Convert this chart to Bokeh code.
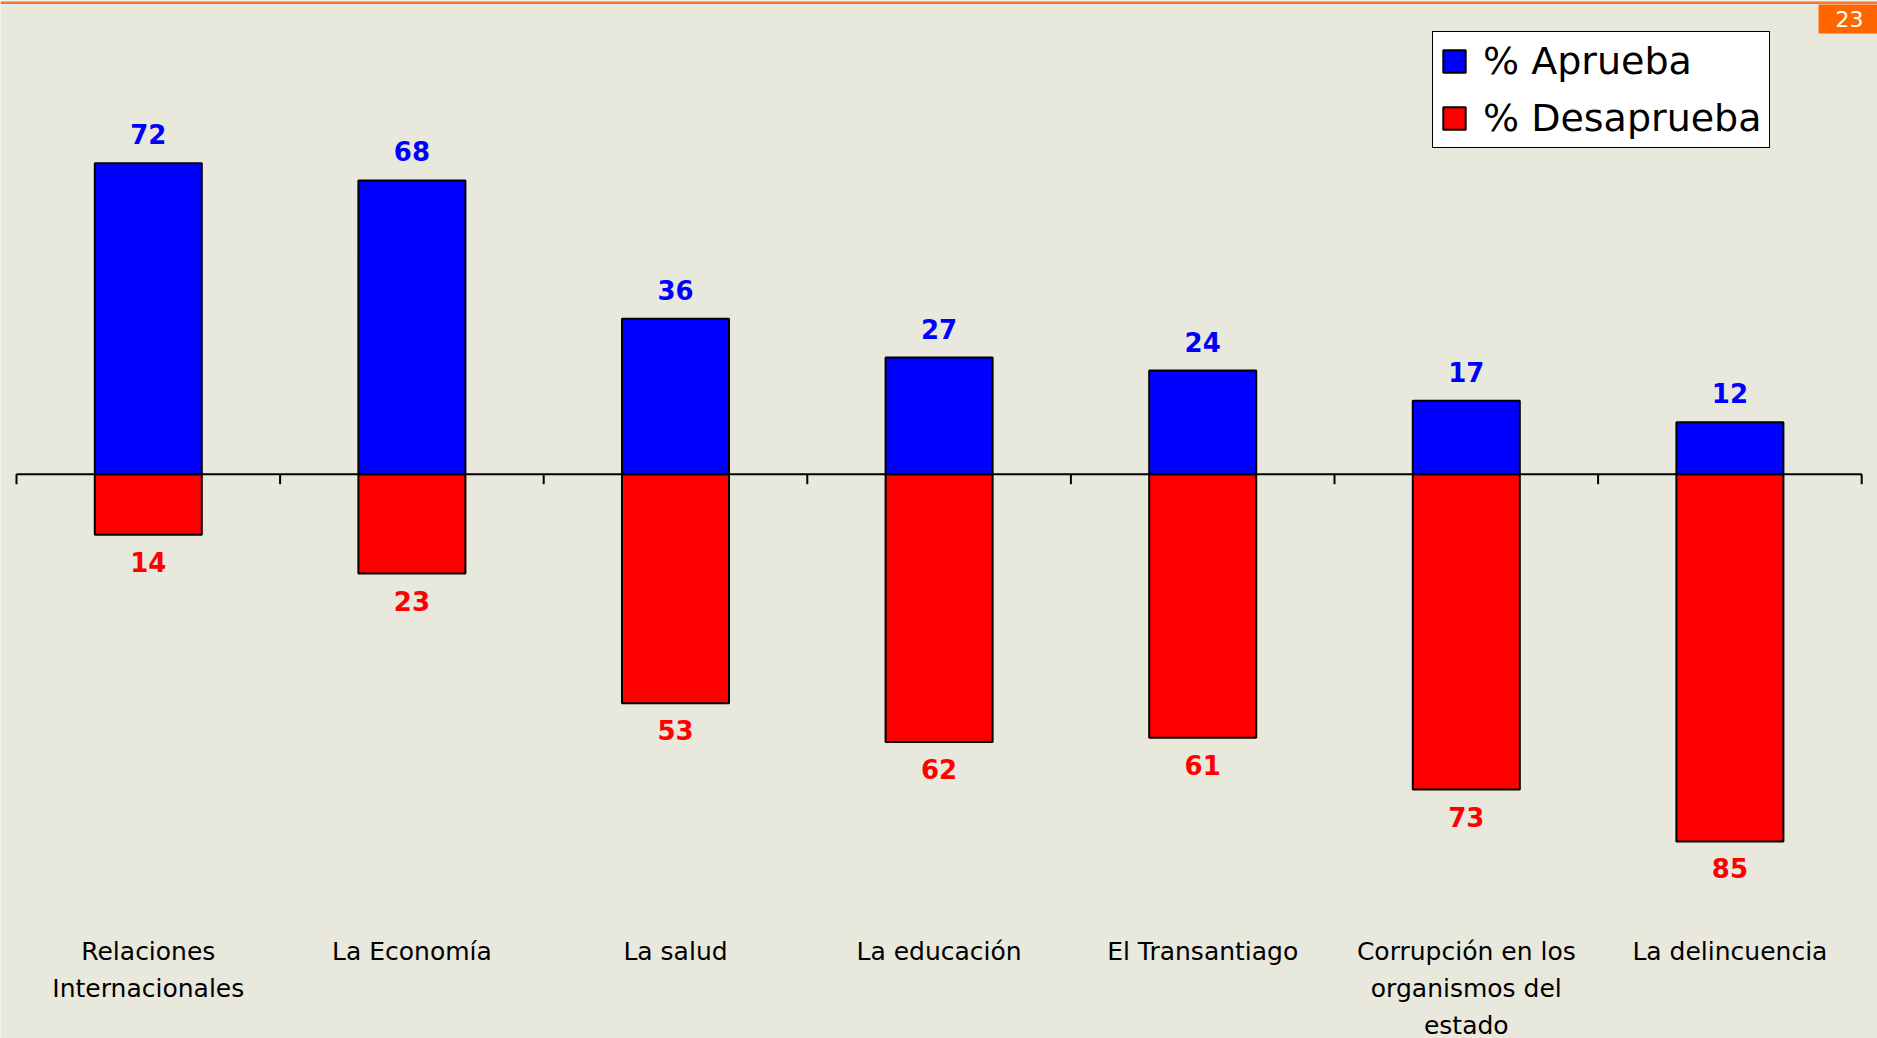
from bokeh.plotting import figure
from bokeh.models import ColumnDataSource, Legend, LegendItem, BoxAnnotation, Label, Range1d
from bokeh.core.properties import value
from bokeh.embed import file_html
from bokeh.resources import INLINE

# ---- data ----
categories = ["Relaciones\nInternacionales", "La Economía", "La salud", "La educación",
              "El Transantiago", "Corrupción en los\norganismos del\nestado", "La delincuencia"]
aprueba = [72, 68, 36, 27, 24, 17, 12]
desaprueba = [14, 23, 53, 62, 61, 73, 85]
series_names = ["% Aprueba", "% Desaprueba"]
page_number = "23"

BG = "#E8E8DD"
BLUE = "#0000FF"
RED = "#FF0000"
FONT = "DejaVu Sans"

W, H = 1877, 1038
n = len(categories)

# layout (pixels in the figure)
cat_px = 263.6
left_pad_px = 16
zero_px = 473.7          # distance of zero line from top
px_per_unit = 4.32

x_start = -left_pad_px / cat_px
x_end = x_start + W / cat_px
y_end = zero_px / px_per_unit
y_start = -(H - zero_px) / px_per_unit

p = figure(width=W, height=H, output_backend="svg", toolbar_location=None,
           x_range=Range1d(x_start, x_end), y_range=Range1d(y_start, y_end),
           x_axis_location=None, y_axis_location=None,
           min_border=0, min_border_left=0, min_border_right=0,
           min_border_top=0, min_border_bottom=0)
p.background_fill_color = BG
p.border_fill_color = BG
p.outline_line_color = None
p.xgrid.visible = False
p.ygrid.visible = False

xs = [i + 0.5 for i in range(n)]
src = ColumnDataSource(dict(x=xs, a=aprueba, d=[-v for v in desaprueba],
                            at=[str(v) for v in aprueba], dt=[str(v) for v in desaprueba]))

bar_w = 0.406
r_a = p.vbar(x="x", top="a", bottom=0, width=bar_w, source=src,
             fill_color=BLUE, line_color="black", line_width=2)
r_d = p.vbar(x="x", top=0, bottom="d", width=bar_w, source=src,
             fill_color=RED, line_color="black", line_width=2)

# zero axis line with downward ticks at category boundaries
p.segment(x0=[0], x1=[n], y0=[0], y1=[0], line_color="black", line_width=2)
tick_len = 10 / px_per_unit
bounds = list(range(n + 1))
p.segment(x0=bounds, x1=bounds, y0=[0] * len(bounds), y1=[-tick_len] * len(bounds),
          line_color="black", line_width=2)

# value labels
p.text(x="x", y="a", text="at", source=src, y_offset=-29, text_align="center",
       text_baseline="alphabetic", text_color=BLUE, text_font=value(FONT),
       text_font_style="bold", text_font_size="26px")
p.text(x="x", y="d", text="dt", source=src, y_offset=27, text_align="center",
       text_baseline="alphabetic", text_color=RED, text_font=value(FONT),
       text_font_style="bold", text_font_size="26px")

# category labels (multi-line)
label_y = -(951 - zero_px) / px_per_unit
line_gap = 37
lx, ly, lt, lo = [], [], [], []
for i, c in enumerate(categories):
    for j, line in enumerate(c.split("\n")):
        lx.append(i + 0.5)
        ly.append(label_y)
        lt.append(line)
        lo.append(j * line_gap)
lsrc = ColumnDataSource(dict(x=lx, y=ly, t=lt, o=lo))
p.text(x="x", y="y", text="t", y_offset="o", source=lsrc, text_align="center",
       text_baseline="alphabetic", text_color="black", text_font=value(FONT),
       text_font_size="25px")

# legend
legend = Legend(items=[LegendItem(label=series_names[0], renderers=[r_a]),
                       LegendItem(label=series_names[1], renderers=[r_d])],
                location=(1432, H - 148), orientation="vertical",
                label_text_font=FONT, label_text_font_size="38px", label_text_color="black",
                glyph_width=28, glyph_height=28, label_standoff=15,
                padding=7, spacing=13, margin=0,
                border_line_color="black", border_line_width=1.5, border_line_alpha=1.0,
                background_fill_color="white", background_fill_alpha=1.0)
p.add_layout(legend, "center")

# orange header line and page number
p.add_layout(BoxAnnotation(bottom=H - 3.5, bottom_units="screen", top=H - 1, top_units="screen",
                           fill_color="#F07A35", fill_alpha=1.0, line_color=None, level="overlay"))
p.add_layout(BoxAnnotation(left=1818, left_units="screen", bottom=H - 33, bottom_units="screen",
                           top=H - 4, top_units="screen", fill_color="#FF6600",
                           fill_alpha=1.0, line_color=None, level="overlay"))
p.add_layout(Label(x=1849, y=H - 18.5, x_units="screen", y_units="screen", text=page_number,
                   text_align="center", text_baseline="middle", text_color="white",
                   text_font=FONT, text_font_size="22px", level="overlay"))

open("out.html", "w").write(file_html(p, INLINE))
